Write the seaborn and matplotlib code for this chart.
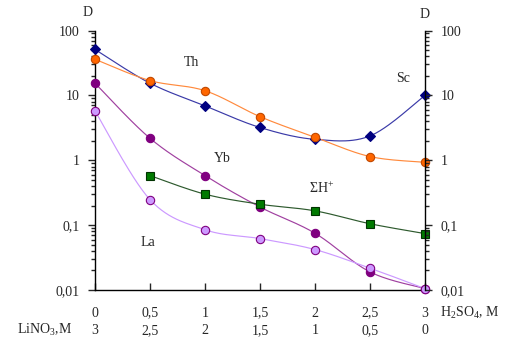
import numpy as np
import pandas as pd
import matplotlib
matplotlib.use("Agg")
import matplotlib.pyplot as plt
import matplotlib.ticker as mticker
import seaborn as sns

# concentrations
h2so4 = [0, 0.5, 1, 1.5, 2, 2.5, 3]
h2so4_labels = ["0", "0,5", "1", "1,5", "2", "2,5", "3"]
lino3_labels = ["3", "2,5", "2", "1,5", "1", "0,5", "0"]

# distribution coefficients D
sc = [51, 15.4, 6.9, 3.2, 2.1, 2.37, 10]
th = [36, 16.9, 11.8, 4.7, 2.26, 1.14, 0.93]
yb = [15.4, 2.18, 0.58, 0.19, 0.075, 0.019, 0.0105]
la = [5.75, 0.247, 0.085, 0.062, 0.042, 0.0217, 0.0105]
h_x = [0.5, 1, 1.5, 2, 2.5, 3]
h_plus = [0.58, 0.30, 0.21, 0.166, 0.105, 0.074]

y_ticks = [0.01, 0.1, 1, 10, 100]
y_labels = ["0,01", "0,1", "1", "10", "100"]

sns.set_style("ticks")
plt.rcParams["font.family"] = ["Liberation Serif", "DejaVu Serif"]
plt.rcParams["mathtext.fontset"] = "custom"
plt.rcParams["mathtext.rm"] = "Liberation Serif"
plt.rcParams["mathtext.it"] = "Liberation Serif"
plt.rcParams["mathtext.bf"] = "Liberation Serif"


def smooth(x, y, n=30):
    # excel-like smoothed line (bezier through points, in log space)
    x = np.asarray(x, float)
    ly = np.log10(y)
    P = np.column_stack([x, ly])
    out = []
    for i in range(len(P) - 1):
        p0 = P[i - 1] if i > 0 else P[i]
        p3 = P[i + 2] if i + 2 < len(P) else P[i + 1]
        c1 = P[i] + (P[i + 1] - p0) / 6
        c2 = P[i + 1] - (p3 - P[i]) / 6
        t = np.linspace(0, 1, n)[:, None]
        seg = ((1 - t) ** 3 * P[i] + 3 * (1 - t) ** 2 * t * c1
               + 3 * (1 - t) * t ** 2 * c2 + t ** 3 * P[i + 1])
        out.append(seg if i == 0 else seg[1:])
    s = np.vstack(out)
    return s[:, 0], 10 ** s[:, 1]


fig = plt.figure(figsize=(5.13, 3.49), dpi=100)
ax = fig.add_axes([95 / 513, 1 - 290 / 349, 330 / 513, 259.5 / 349])

series = [
    (h2so4, sc, "#3a3aa8", "#000080", "#000080", "D", 6.5),
    (h2so4, th, "#ff8a3d", "#ff6600", "#c04800", "o", 6),
    (h2so4, yb, "#a040a0", "#800080", "#800080", "o", 6),
    (h2so4, la, "#cc99ff", "#cc99ff", "#800080", "o", 6),
    (h_x, h_plus, "#2e5a2e", "#007a00", "#003300", "s", 6),
]
for xs, ys, lc, fc, ec, mk, ms in series:
    sx, sy = smooth(xs, ys)
    sns.lineplot(x=sx, y=sy, sort=False, color=lc, lw=0.85, ax=ax, zorder=2)
    ax.plot(xs, ys, ls="none", marker=mk, ms=ms if mk != "D" else 5,
            mfc=fc, mec=ec, mew=0.8, clip_on=False, zorder=3)

ax.set_yscale("log")
ax.set_ylim(0.01, 100)
ax.set_xlim(0, 3)

ax.yaxis.set_major_locator(mticker.FixedLocator(y_ticks))
ax.yaxis.set_major_formatter(mticker.FixedFormatter(y_labels))
ax.yaxis.set_minor_locator(mticker.LogLocator(base=10, subs=np.arange(2, 10)))
ax.yaxis.set_minor_formatter(mticker.NullFormatter())
ax.tick_params(axis="y", which="major", direction="out", length=5, width=1,
               labelsize=10, pad=6)
ax.tick_params(axis="y", which="minor", direction="out", length=3, width=1)

ax.set_xticks(h2so4)
ax.set_xticklabels([a + "\n" + b for a, b in zip(h2so4_labels, lino3_labels)],
                   linespacing=1.45)
ax.tick_params(axis="x", direction="in", length=5, width=1, labelsize=10, pad=12)

ax2 = ax.twinx()
ax2.set_yscale("log")
ax2.set_ylim(0.01, 100)
ax2.yaxis.set_major_locator(mticker.FixedLocator(y_ticks))
ax2.yaxis.set_major_formatter(mticker.FixedFormatter(y_labels))
ax2.yaxis.set_minor_locator(mticker.LogLocator(base=10, subs=np.arange(2, 10)))
ax2.yaxis.set_minor_formatter(mticker.NullFormatter())
ax2.tick_params(axis="y", which="major", direction="out", length=5, width=1,
                labelsize=10, pad=6)
ax2.tick_params(axis="y", which="minor", direction="out", length=3, width=1)

for a in (ax, ax2):
    a.spines["top"].set_visible(False)
    for s in a.spines.values():
        s.set_linewidth(1)
        s.set_color("black")
ax.spines["right"].set_visible(False)
ax2.spines["left"].set_visible(False)
ax2.spines["bottom"].set_visible(False)

# series labels
kw = dict(fontsize=10, ha="center", va="center")
fig.text(192 / 513, 1 - 63 / 349, "Th", **kw)
fig.text(403 / 513, 1 - 78 / 349, "Sc", **kw)
fig.text(222 / 513, 1 - 159 / 349, "Yb", **kw)
fig.text(322 / 513, 1 - 188 / 349, "ΣH$^{+}$", **kw)
fig.text(148 / 513, 1 - 243 / 349, "La", **kw)

fig.text(88 / 513, 1 - 12 / 349, "D", **kw)
fig.text(425 / 513, 1 - 14 / 349, "D", **kw)
fig.text(440 / 513, 1 - 313 / 349, "H$_2$SO$_4$, M", fontsize=10, ha="left", va="center")
fig.text(17 / 513, 1 - 330 / 349, "LiNO$_3$,M", fontsize=10, ha="left", va="center")

fig.savefig("out.png", dpi=100)
